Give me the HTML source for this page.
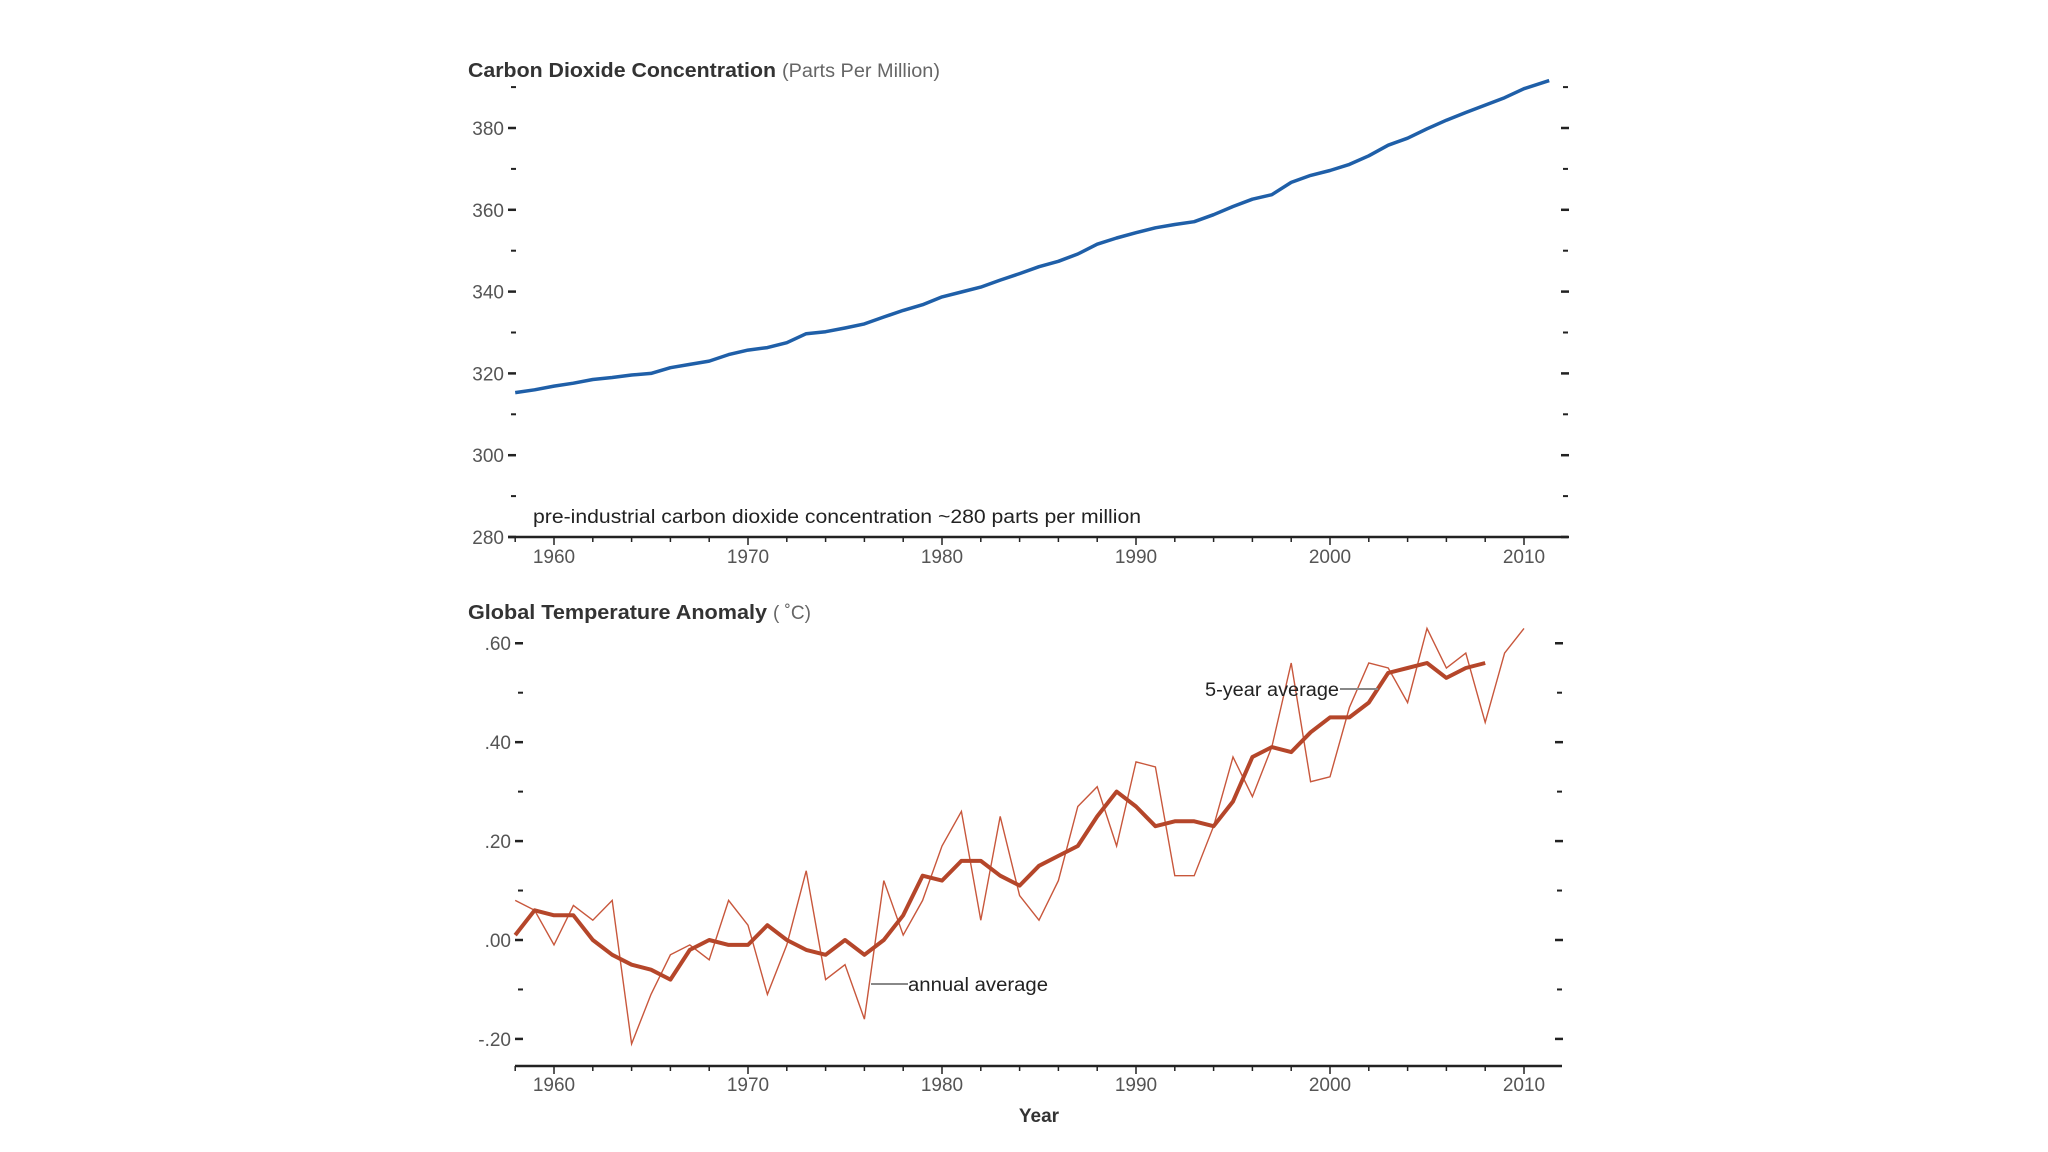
<!DOCTYPE html>
<html><head><meta charset="utf-8"><style>
html,body{margin:0;padding:0;background:#fff;}
svg{display:block;font-family:"Liberation Sans","DejaVu Sans",sans-serif;}
</style></head><body>
<svg id="chart" width="2048" height="1152" viewBox="0 0 2048 1152" xmlns="http://www.w3.org/2000/svg">
<rect width="2048" height="1152" fill="#fff"/>
<g id="topPanel"></g>
<g id="botPanel"></g>
</svg>
<script>
const co2Years=[1958,1959,1960,1961,1962,1963,1964,1965,1966,1967,1968,1969,1970,1971,1972,1973,1974,1975,1976,1977,1978,1979,1980,1981,1982,1983,1984,1985,1986,1987,1988,1989,1990,1991,1992,1993,1994,1995,1996,1997,1998,1999,2000,2001,2002,2003,2004,2005,2006,2007,2008,2009,2010,2011.3];
const co2Values=[315.3,316.0,316.9,317.6,318.5,319.0,319.6,320.0,321.4,322.2,323.0,324.6,325.7,326.3,327.5,329.7,330.2,331.1,332.1,333.8,335.4,336.8,338.7,339.9,341.1,342.8,344.4,346.1,347.4,349.2,351.6,353.1,354.4,355.6,356.4,357.1,358.8,360.8,362.6,363.7,366.7,368.4,369.6,371.1,373.2,375.8,377.5,379.8,381.9,383.8,385.6,387.4,389.6,391.6];
const co2Ticks=[280,300,320,340,360,380];
const co2TickLabels=["280","300","320","340","360","380"];
const tempYears=[1958,1959,1960,1961,1962,1963,1964,1965,1966,1967,1968,1969,1970,1971,1972,1973,1974,1975,1976,1977,1978,1979,1980,1981,1982,1983,1984,1985,1986,1987,1988,1989,1990,1991,1992,1993,1994,1995,1996,1997,1998,1999,2000,2001,2002,2003,2004,2005,2006,2007,2008,2009,2010];
const tempAnnual=[.08,.06,-.01,.07,.04,.08,-.21,-.11,-.03,-.01,-.04,.08,.03,-.11,-.01,.14,-.08,-.05,-.16,.12,.01,.08,.19,.26,.04,.25,.09,.04,.12,.27,.31,.19,.36,.35,.13,.13,.23,.37,.29,.39,.56,.32,.33,.47,.56,.55,.48,.63,.55,.58,.44,.58,.63];
const tempFiveYear=[.01,.06,.05,.05,.00,-.03,-.05,-.06,-.08,-.02,.00,-.01,-.01,.03,.00,-.02,-.03,.00,-.03,.00,.05,.13,.12,.16,.16,.13,.11,.15,.17,.19,.25,.30,.27,.23,.24,.24,.23,.28,.37,.39,.38,.42,.45,.45,.48,.54,.55,.56,.53,.55,.56];
const tempTicks=[-0.2,0,0.2,0.4,0.6];
const tempTickLabels=["-.20",".00",".20",".40",".60"];
const yearTicks=[1960,1970,1980,1990,2000,2010];

const NS="http://www.w3.org/2000/svg";
function mk(parent,tag,attrs,text){const e=document.createElementNS(NS,tag);for(const k in attrs)e.setAttribute(k,attrs[k]);if(text!==undefined)e.textContent=text;parent.appendChild(e);return e;}
const xS=y=>554+19.4*(y-1960);
const yTop=v=>537-(v-280)*4.09;
const yBot=v=>940-494.6*v;

function axes(g,axisY,labelOff,x0,x1,yS,ticks,labels,minorVals,rightX){
  const ax=mk(g,'line',{x1:x0,x2:x1,y1:axisY,y2:axisY,stroke:'#222','stroke-width':2.5});
  
  
  for(let yr=1958;yr<=2011;yr+=2){const major=yr%10===0;const t=mk(g,'line',{x1:xS(yr),x2:xS(yr),y1:axisY,y2:axisY+(major?8:5),stroke:'#222','stroke-width':1.5});
    
    }
  yearTicks.forEach(yr=>{const t=mk(g,'text',{x:xS(yr),y:axisY+labelOff,'text-anchor':'middle','font-size':19,fill:'#555'},String(yr));
    
    });
  ticks.forEach((v,i)=>{const y=yS(v);
    const l=mk(g,'line',{x1:x0,x2:x0+8,y1:y,y2:y,stroke:'#222','stroke-width':2.5});
    
    
    const r=mk(g,'line',{x1:rightX,x2:rightX+8,y1:y,y2:y,stroke:'#222','stroke-width':2.5});
    
    
    const t=mk(g,'text',{x:x0-4,y:y+7,'text-anchor':'end','font-size':19,fill:'#555'},labels[i]);
    
    });
  minorVals.forEach(v=>{const y=yS(v);
    const l=mk(g,'line',{x1:x0+3,x2:x0+8,y1:y,y2:y,stroke:'#222','stroke-width':2});
    
    
    const r=mk(g,'line',{x1:rightX+2,x2:rightX+7,y1:y,y2:y,stroke:'#222','stroke-width':2});
    
    });
}
function pathD(xs,vs,yS){return xs.map((x,i)=>(i?'L':'M')+xS(x).toFixed(1)+','+yS(vs[i]).toFixed(1)).join(' ');}

const topG=document.getElementById('topPanel');
const t1=mk(topG,'text',{x:468,y:77,'font-size':20,'font-weight':'bold',fill:'#333',textLength:308,lengthAdjust:'spacingAndGlyphs'},'Carbon Dioxide Concentration');


const t1b=mk(topG,'text',{x:782,y:77,'font-size':19,fill:'#666',textLength:158,lengthAdjust:'spacingAndGlyphs'},'(Parts Per Million)');


axes(topG,537,26,508,1568,yTop,co2Ticks,co2TickLabels,[290,310,330,350,370,390],1561);
const co2=mk(topG,'path',{d:pathD(co2Years,co2Values,yTop),fill:'none',stroke:'#1f5fa8','stroke-width':3.5,'stroke-linejoin':'round'});


const note=mk(topG,'text',{x:533,y:523,'font-size':19,fill:'#222',textLength:608,lengthAdjust:'spacingAndGlyphs'},'pre-industrial carbon dioxide concentration ~280 parts per million');



const botG=document.getElementById('botPanel');
const t2=mk(botG,'text',{x:468,y:619,'font-size':20,'font-weight':'bold',fill:'#333',textLength:299,lengthAdjust:'spacingAndGlyphs'},'Global Temperature Anomaly');


const t2b=mk(botG,'text',{x:773,y:619,'font-size':19,fill:'#666'},'( ˚C)');


axes(botG,1066,25,515,1562,yBot,tempTicks,tempTickLabels,[-0.1,0.1,0.3,0.5],1555);
const ann=mk(botG,'path',{d:pathD(tempYears,tempAnnual,yBot),fill:'none',stroke:'#c8573c','stroke-width':1.4,'stroke-linejoin':'miter'});


const five=mk(botG,'path',{d:pathD(tempYears.slice(0,tempFiveYear.length),tempFiveYear,yBot),fill:'none',stroke:'#b5462a','stroke-width':4,'stroke-linejoin':'round'});


const l1=mk(botG,'line',{x1:871,x2:908,y1:984,y2:984,stroke:'#888','stroke-width':2});


const a1=mk(botG,'text',{x:908,y:991,'font-size':19,fill:'#222',textLength:140,lengthAdjust:'spacingAndGlyphs'},'annual average');


const l2=mk(botG,'line',{x1:1340,x2:1378,y1:689,y2:689,stroke:'#888','stroke-width':2});


const a2=mk(botG,'text',{x:1205,y:696,'font-size':19,fill:'#222',textLength:134,lengthAdjust:'spacingAndGlyphs'},'5-year average');


const xt=mk(botG,'text',{x:1039,y:1122,'text-anchor':'middle','font-size':19,'font-weight':'bold',fill:'#333'},'Year');


</script>
</body></html>
